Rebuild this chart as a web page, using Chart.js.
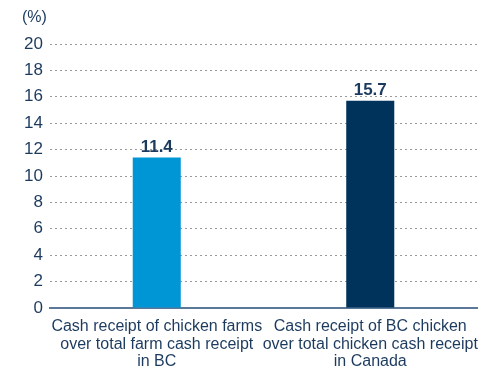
<!DOCTYPE html>
<html>
<head>
<meta charset="utf-8">
<script src="https://cdn.jsdelivr.net/npm/chart.js@4"></script>
<style>
  html, body { margin: 0; padding: 0; background: #fff; }
  #wrap { width: 489px; height: 372px; }
</style>
</head>
<body>
<div id="wrap"><canvas id="chart" width="489" height="372"></canvas></div>
<script>
// Chicken cash receipts, share of totals (%)
const categories = [
    ['Cash receipt of chicken farms', 'over total farm cash receipt', 'in BC'],
    ['Cash receipt of BC chicken', 'over total chicken cash receipt', 'in Canada']
];
const shares = [11.4, 15.7];
const barColors = ['#0096d6', '#00335c'];
const yTicks = [0, 2, 4, 6, 8, 10, 12, 14, 16, 18, 20];

const FONT = '"Liberation Sans Narrow", "Liberation Sans", Arial, sans-serif';
const TEXT = '#1c3a5e';

// value labels above bars + unit label in the corner
const labelsPlugin = {
    id: 'labels',
    afterDatasetsDraw(chart) {
        const ctx = chart.ctx;
        ctx.save();
        ctx.fillStyle = TEXT;
        ctx.font = 'bold 17px ' + FONT;
        ctx.textAlign = 'center';
        ctx.textBaseline = 'bottom';
        chart.getDatasetMeta(0).data.forEach((bar, i) => {
            ctx.fillText(shares[i].toFixed(1), bar.x, bar.y - 2);
        });
        ctx.font = '16px ' + FONT;
        ctx.textAlign = 'left';
        ctx.textBaseline = 'middle';
        ctx.fillText('(%)', 22, 18);
        ctx.restore();
    }
};

new Chart(document.getElementById('chart').getContext('2d'), {
    type: 'bar',
    data: {
        labels: categories,
        datasets: [{
            data: shares,
            backgroundColor: barColors,
            barPercentage: 0.225,
            categoryPercentage: 1.0
        }]
    },
    options: {
        responsive: false,
        animation: false,
        layout: { padding: { top: 44, right: 12, left: 0, bottom: 0 } },
        plugins: { legend: { display: false }, tooltip: { enabled: false } },
        scales: {
            x: {
                grid: { display: false },
                border: { display: true, color: '#5b7899', width: 2 },
                ticks: {
                    color: TEXT,
                    font: { family: FONT, size: 16, lineHeight: 1.1 },
                    padding: 2,
                    maxRotation: 0,
                    autoSkip: false
                },
                afterFit(scale) { scale.height = 64; }
            },
            y: {
                min: 0,
                max: 20,
                afterBuildTicks(scale) { scale.ticks = yTicks.map(v => ({ value: v })); },
                grid: {
                    color: '#9a9a9a',
                    lineWidth: 1,
                    drawTicks: false
                },
                border: { display: false, dash: [2, 3] },
                ticks: {
                    color: TEXT,
                    font: { family: FONT, size: 17 },
                    padding: 7
                },
                afterFit(scale) { scale.width = 50; }
            }
        }
    },
    plugins: [labelsPlugin]
});
</script>
</body>
</html>
